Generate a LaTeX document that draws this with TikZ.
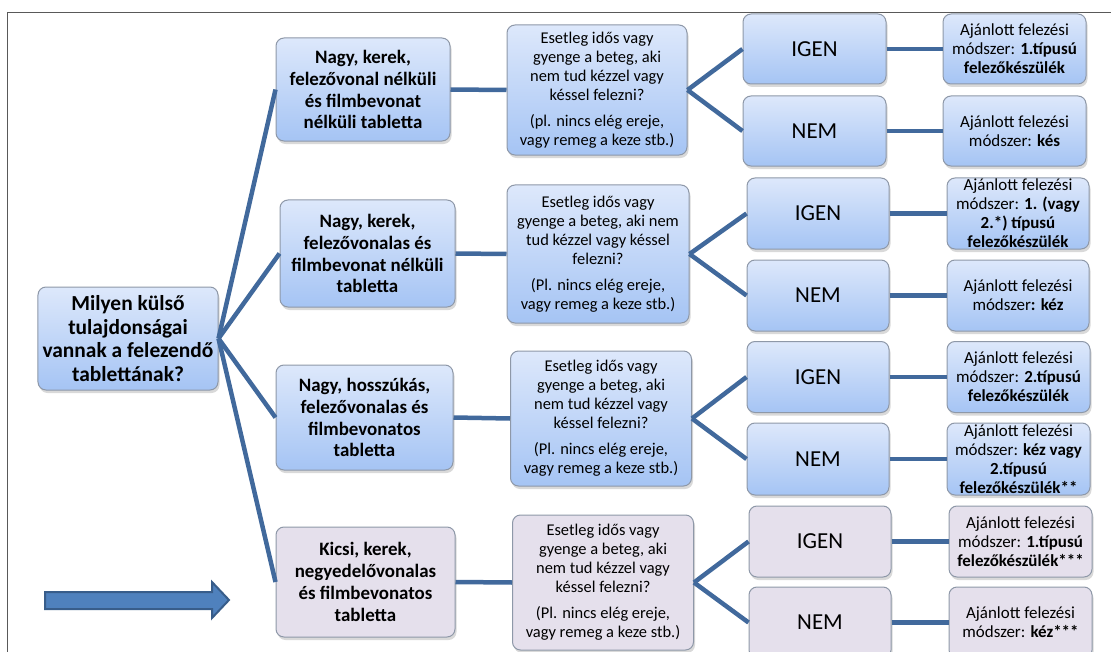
\documentclass[tikz,border=0pt]{standalone}
\usepackage{fontspec}
\setmainfont{Carlito}
\usetikzlibrary{shadows}
\definecolor{linkblue}{HTML}{41699C}
\definecolor{boxtop}{HTML}{DDE8FB}
\definecolor{boxbot}{HTML}{A5C4F4}
\definecolor{lilac}{HTML}{E5E0EC}
\definecolor{boxline}{HTML}{8E98A8}
\definecolor{arrowfill}{HTML}{4F81BD}
\definecolor{arrowedge}{HTML}{385D8A}

\tikzset{
    box/.style={draw=boxline, line width=1bp, rounded corners=8bp, align=center, inner sep=1bp,
        drop shadow={shadow xshift=1.5bp, shadow yshift=-3bp, opacity=0.3}},
    bluebox/.style={box, top color=boxtop, bottom color=boxbot},
    greybox/.style={box, fill=lilac},
    roottxt/.style={font=\fontsize{21.5}{23.5}\selectfont\bfseries},
    headtxt/.style={font=\fontsize{19}{22}\selectfont\bfseries},
    asktxt/.style={font=\fontsize{16.5}{19}\selectfont},
    yestxt/.style={font=\fontsize{23}{26}\selectfont},
    endtxt/.style={font=\fontsize{17}{19}\selectfont},
    link/.style={draw=linkblue, line width=4.5bp},
}

\newcommand{\askq}[2]{Esetleg idős vagy\\#1\\[7bp](#2l. nincs elég ereje,\\vagy remeg a keze stb.)}

\begin{document}
\begin{tikzpicture}[x=1bp, y=-1bp]
    \useasboundingbox (0,0) rectangle (1111,652);
    \draw[line width=1bp, black!65] (7,652) -- (7,13) -- (1112,13);

    \node[bluebox, roottxt, minimum width=180bp, minimum height=103bp] (root) at (128,338.5)
        {Milyen külső\\tulajdonságai\\vannak a felezendő\\tablettának?};

    \node[bluebox, headtxt, minimum width=174bp, minimum height=103bp] (b1) at (363,89.5)
        {Nagy, kerek,\\felezővonal nélküli\\és filmbevonat\\nélküli tabletta};
    \node[bluebox, headtxt, minimum width=175bp, minimum height=107bp] (b2) at (367.5,253.5)
        {Nagy, kerek,\\felezővonalas és\\filmbevonat nélküli\\tabletta};
    \node[bluebox, headtxt, minimum width=177bp, minimum height=105bp] (b3) at (364.5,417.5)
        {Nagy, hosszúkás,\\felezővonalas és\\filmbevonatos\\tabletta};
    \node[greybox, headtxt, minimum width=179bp, minimum height=110bp] (b4) at (365.5,582)
        {Kicsi, kerek,\\negyedelővonalas\\és filmbevonatos\\tabletta};

    \node[bluebox, asktxt, minimum width=180bp, minimum height=130bp] (q1) at (597,90)
        {\askq{gyenge a beteg, aki\\nem tud kézzel vagy\\késsel felezni?}{p}};
    \node[bluebox, asktxt, minimum width=182bp, minimum height=138bp] (q2) at (598,254)
        {\askq{gyenge a beteg, aki nem\\tud kézzel vagy késsel\\felezni?}{P}};
    \node[bluebox, asktxt, minimum width=181bp, minimum height=135bp] (q3) at (601,418.5)
        {\askq{gyenge a beteg, aki\\nem tud kézzel vagy\\késsel felezni?}{P}};
    \node[greybox, asktxt, minimum width=181bp, minimum height=135bp] (q4) at (603,582.5)
        {\askq{gyenge a beteg, aki\\nem tud kézzel vagy\\késsel felezni?}{P}};

    \node[bluebox, yestxt, minimum width=143bp, minimum height=70bp] (i1) at (814.5,49) {IGEN};
    \node[bluebox, yestxt, minimum width=143bp, minimum height=70bp] (n1) at (814.5,131) {NEM};
    \node[bluebox, yestxt, minimum width=142bp, minimum height=71bp] (i2) at (818,213.5) {IGEN};
    \node[bluebox, yestxt, minimum width=142bp, minimum height=71bp] (n2) at (818,295.5) {NEM};
    \node[bluebox, yestxt, minimum width=142bp, minimum height=71bp] (i3) at (818,377) {IGEN};
    \node[bluebox, yestxt, minimum width=142bp, minimum height=72bp] (n3) at (818,459) {NEM};
    \node[greybox, yestxt, minimum width=142bp, minimum height=71bp] (i4) at (820,541.5) {IGEN};
    \node[greybox, yestxt, minimum width=142bp, minimum height=71bp] (n4) at (820,622.5) {NEM};

    \node[bluebox, endtxt, minimum width=143bp, minimum height=70bp] (ai1) at (1014.5,49)
        {Ajánlott felezési\\módszer: \textbf{1.típusú}\\\textbf{felezőkészülék}};
    \node[bluebox, endtxt, minimum width=143bp, minimum height=70bp] (an1) at (1014.5,131)
        {Ajánlott felezési\\módszer: \textbf{kés}};
    \node[bluebox, endtxt, minimum width=142bp, minimum height=71bp] (ai2) at (1018,213.5)
        {\fontsize{17}{18.3}\selectfont Ajánlott felezési\\módszer: \textbf{1. (vagy}\\\textbf{2.*) típusú}\\\textbf{felezőkészülék}};
    \node[bluebox, endtxt, minimum width=142bp, minimum height=71bp] (an2) at (1018,295.5)
        {Ajánlott felezési\\módszer\textbf{: kéz}};
    \node[bluebox, endtxt, minimum width=143bp, minimum height=71bp] (ai3) at (1018.5,377)
        {Ajánlott felezési\\módszer: \textbf{2.típusú}\\\textbf{felezőkészülék}};
    \node[bluebox, endtxt, minimum width=143bp, minimum height=72bp] (an3) at (1018.5,459)
        {\fontsize{17}{18.3}\selectfont Ajánlott felezési\\módszer: \textbf{kéz vagy}\\\textbf{2.típusú}\\\textbf{felezőkészülék**}};
    \node[greybox, endtxt, minimum width=143bp, minimum height=71bp] (ai4) at (1020.5,541.5)
        {Ajánlott felezési\\módszer: \textbf{1.típusú}\\\textbf{felezőkészülék***}};
    \node[greybox, endtxt, minimum width=143bp, minimum height=71bp] (an4) at (1020.5,622.5)
        {Ajánlott felezési\\módszer: \textbf{kéz***}};

    \foreach \r in {1,...,4} {
        \draw[link] (root.east) -- (b\r.west);
        \draw[link] (b\r.east) -- (q\r.west);
        \draw[link] (q\r.east) -- (i\r.west);
        \draw[link] (q\r.east) -- (n\r.west);
        \draw[link] (i\r.east) -- (ai\r.west);
        \draw[link] (n\r.east) -- (an\r.west);
    }

    \draw[line width=2bp, draw=arrowedge, fill=arrowfill] (45,592) -- (212,592) -- (212,582)
        -- (229,600) -- (212,618) -- (212,609) -- (45,609) -- cycle;
\end{tikzpicture}
\end{document}
